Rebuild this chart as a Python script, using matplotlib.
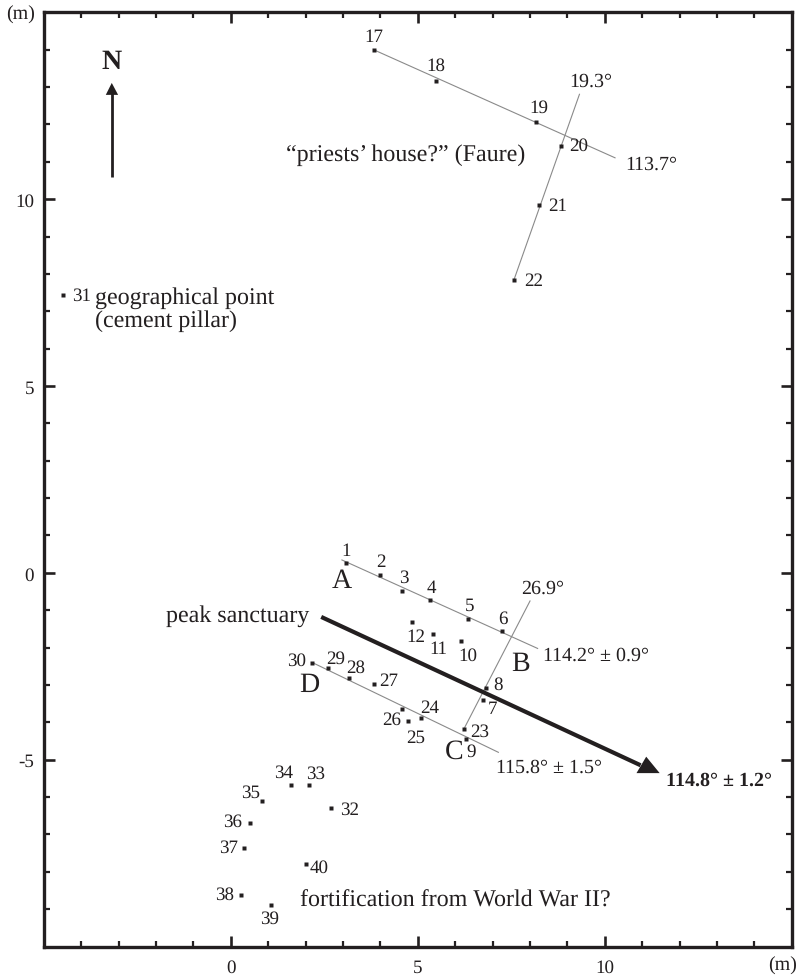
#!/usr/bin/env python3
# -*- coding: utf-8 -*-

"""Site plan: measured points, alignment lines and orientation arrows"""

import matplotlib
matplotlib.use("Agg")
import matplotlib.pyplot as plt
from matplotlib.patches import Polygon
from matplotlib.ticker import MultipleLocator

W, H = 801, 979
INK = "#231f20"
GREY = "#8a8a8a"

# measured points (m)
point_ids = [1, 2, 3, 4, 5, 6, 7, 8, 9, 10, 11, 12,
             17, 18, 19, 20, 21, 22, 23, 24, 25, 26, 27, 28, 29, 30,
             31, 32, 33, 34, 35, 36, 37, 38, 39, 40]
point_x = [3.09, 4.00, 4.59, 5.33, 6.34, 7.25, 6.75, 6.83, 6.29, 6.16, 5.41, 4.85,
           3.84, 5.50, 8.16, 8.83, 8.25, 7.57, 6.25, 5.09, 4.75, 4.59, 3.84, 3.17, 2.59, 2.18,
           -4.48, 2.69, 2.10, 1.60, 0.85, 0.52, 0.35, 0.27, 1.09, 2.02]
point_y = [0.26, -0.06, -0.48, -0.74, -1.23, -1.56, -3.40, -3.07, -4.46, -1.82, -1.65, -1.32,
           13.99, 13.16, 12.07, 11.41, 9.83, 7.83, -4.19, -3.89, -3.96, -3.65, -2.98, -2.81, -2.56, -2.40,
           7.43, -6.29, -5.69, -5.69, -6.11, -6.70, -7.36, -8.63, -8.88, -7.80]

# alignment lines (m)
line_ab_x = [2.96, 8.22]
line_ab_y = [0.35, -2.03]
line_cd_x = [2.18, 7.17]
line_cd_y = [-2.40, -4.81]
line_269_x = [8.01, 6.25]
line_269_y = [-0.74, -4.15]
line_1137_x = [3.84, 10.29]
line_1137_y = [13.99, 11.10]
line_193_x = [9.33, 7.57]
line_193_y = [12.82, 7.83]

# mean orientation arrow (m)
mean_x = [2.42, 10.96]
mean_y = [-1.18, -5.15]
mean_head_x = [11.11, 10.85, 11.47]
mean_head_y = [-4.92, -5.36, -5.36]

# north arrow (m)
north_x = [-3.18, -3.18]
north_y = [10.58, 12.85]
north_head_x = [-3.18, -3.34, -3.01]
north_head_y = [13.11, 12.79, 12.79]

x_tick_labels = {0: "0", 5: "5", 10: "10"}
y_tick_labels = {-5: "-5", 0: "0", 5: "5", 10: "10"}

# label offset from its point, pixels
label_offsets = {
    1: (0, 13), 2: (1, 14), 3: (1, 14), 4: (1, 13), 5: (2, 14), 6: (1, 13),
    7: (9, -9), 8: (12, 3), 9: (5, -12), 10: (7, -14), 11: (5, -14), 12: (4, -14),
    17: (0, 14), 18: (-1, 16), 19: (3, 15), 20: (18, 1), 21: (18, 0), 22: (20, 0),
    23: (15, -2), 24: (9, 11), 25: (7, -16), 26: (-11, -10), 27: (14, 4), 28: (6, 11),
    29: (8, 10), 30: (-16, 2), 31: (18, 0), 32: (18, -1), 33: (6, 12), 34: (-7, 13),
    35: (-12, 9), 36: (-18, 2), 37: (-15, 1), 38: (-16, 1), 39: (-2, -14), 40: (13, -3),
}


def put_text(fig, px, py, s, size=13.4, ha="center", weight="normal"):
    """Text placed by pixel position of the figure (y counted from the top)"""
    fig.text(px / W, 1 - py / H, s, fontsize=size, ha=ha, va="center",
             color=INK, fontweight=weight)


def main():
    plt.rcParams["font.family"] = ["Liberation Serif", "DejaVu Serif"]
    plt.rcParams["text.hinting"] = "no_hinting"
    plt.rcParams["text.hinting_factor"] = 1

    fig = plt.figure(figsize=(W / 100, H / 100), dpi=100)
    ax = fig.add_axes([43.7 / W, 1 - 947.5 / H, (791.7 - 43.7) / W, (947.5 - 13.3) / H])
    ax.set_xlim(-5, 15)
    ax.set_ylim(-10, 15)

    for s in ax.spines.values():
        s.set_linewidth(2.4)
        s.set_color(INK)

    ax.xaxis.set_major_locator(MultipleLocator(5))
    ax.xaxis.set_minor_locator(MultipleLocator(1))
    ax.yaxis.set_major_locator(MultipleLocator(5))
    ax.yaxis.set_minor_locator(MultipleLocator(1))
    ax.tick_params(which="major", direction="in", length=8, width=1.9, color=INK,
                   top=True, right=True, labelsize=13.4, labelcolor=INK, pad=7)
    ax.tick_params(axis="x", which="major", pad=9)
    ax.tick_params(which="minor", direction="in", length=4.5, width=1.6, color=INK,
                   top=True, right=True)
    ax.xaxis.set_major_formatter(lambda v, pos: x_tick_labels.get(int(round(v)), ""))
    ax.yaxis.set_major_formatter(lambda v, pos: y_tick_labels.get(int(round(v)), ""))

    # thin alignment lines
    for lx, ly in [(line_ab_x, line_ab_y), (line_cd_x, line_cd_y), (line_269_x, line_269_y),
                   (line_1137_x, line_1137_y), (line_193_x, line_193_y)]:
        ax.plot(lx, ly, color=GREY, lw=0.8, solid_capstyle="butt", zorder=2)

    # arrows
    ax.plot(mean_x, mean_y, color=INK, lw=3.0, solid_capstyle="butt", zorder=3)
    ax.add_patch(Polygon(list(zip(mean_head_x, mean_head_y)), closed=True,
                         facecolor=INK, edgecolor="none", zorder=3))
    ax.plot(north_x, north_y, color=INK, lw=2.0, solid_capstyle="butt", zorder=3)
    ax.add_patch(Polygon(list(zip(north_head_x, north_head_y)), closed=True,
                         facecolor=INK, edgecolor="none", zorder=3))

    # points and their numbers
    ax.plot(point_x, point_y, ls="none", marker="s", ms=2.5, mfc=INK, mec="none", zorder=4)
    for pid, px, py in zip(point_ids, point_x, point_y):
        ax.annotate(str(pid), (px, py), xytext=label_offsets[pid], textcoords="offset pixels",
                    ha="center", va="center", fontsize=13.4, color=INK, zorder=5)

    # letters
    put_text(fig, 341.7, 581, "A", size=20)
    put_text(fig, 520.7, 664, "B", size=20)
    put_text(fig, 454, 752, "C", size=20)
    put_text(fig, 309.3, 685, "D", size=20)
    put_text(fig, 112, 62, "N", size=20.5, weight="bold")

    # captions
    put_text(fig, 286, 155, "\u201cpriests\u2019 house?\u201d (Faure)", size=17.2, ha="left")
    put_text(fig, 95, 298, "geographical point", size=17.2, ha="left")
    put_text(fig, 95, 321, "(cement pillar)", size=17.2, ha="left")
    put_text(fig, 166, 616, "peak sanctuary", size=17.2, ha="left")
    put_text(fig, 300, 901, "fortification from World War II?", size=17.2, ha="left")

    # angles
    put_text(fig, 590.7, 82, "19.3\u00b0", size=14.2)
    put_text(fig, 651.7, 165, "113.7\u00b0", size=14.2)
    put_text(fig, 543, 589, "26.9\u00b0", size=14.2)
    put_text(fig, 543, 656, "114.2\u00b0 \u00b1 0.9\u00b0", size=14.2, ha="left")
    put_text(fig, 496, 768, "115.8\u00b0 \u00b1 1.5\u00b0", size=14.2, ha="left")
    put_text(fig, 666, 781, "114.8\u00b0 \u00b1 1.2\u00b0", size=14.2, ha="left", weight="bold")

    # axis units
    put_text(fig, 20.7, 15, "(m)", size=14.5)
    put_text(fig, 783, 966, "(m)", size=14.5)

    fig.savefig("out.png", dpi=100)
    plt.close(fig)


if __name__ == "__main__":
    main()
